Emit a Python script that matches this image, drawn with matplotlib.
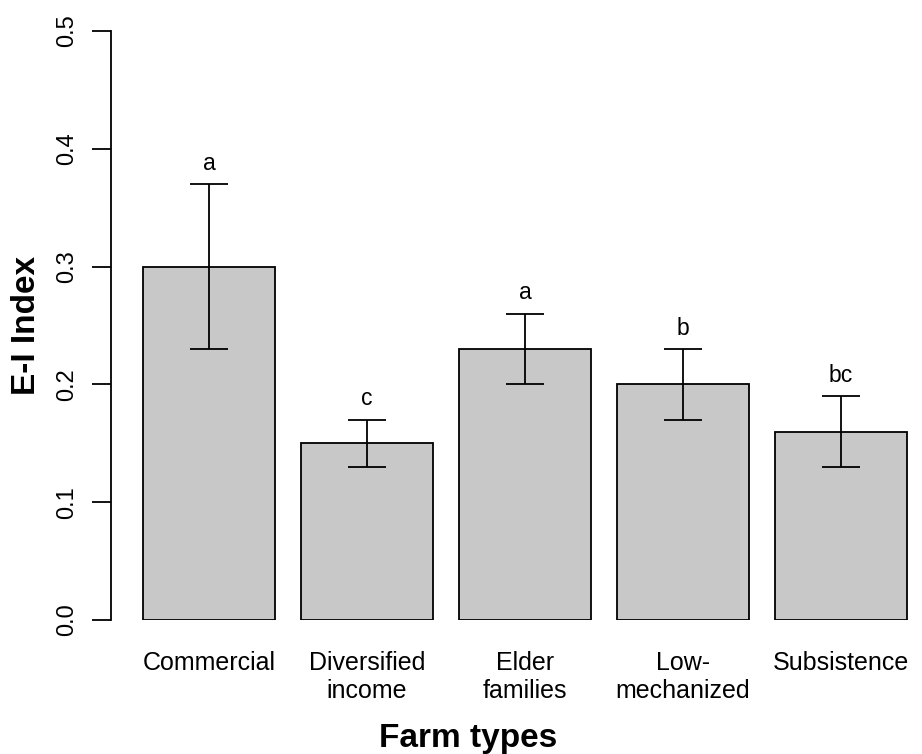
import matplotlib
matplotlib.use("Agg")
import matplotlib.pyplot as plt

plt.rcParams['font.family'] = ['Liberation Sans', 'DejaVu Sans']

categories = ["Commercial", "Diversified\nincome", "Elder\nfamilies", "Low-\nmechanized", "Subsistence"]
means = [0.30, 0.15, 0.23, 0.20, 0.16]
lower = [0.23, 0.13, 0.20, 0.17, 0.13]
upper = [0.37, 0.17, 0.26, 0.23, 0.19]
letters = ["a", "c", "a", "b", "bc"]

W, H = 922, 754
fig = plt.figure(figsize=(W / 100, H / 100), dpi=100)
ax = fig.add_axes([111 / W, (H - 620) / H, (915 - 111) / W, (620 - 31) / H])

x = list(range(len(categories)))
ax.bar(x, means, width=0.835, color="#c8c8c8", edgecolor="black", linewidth=1.3)

err_lo = [m - l for m, l in zip(means, lower)]
err_hi = [u - m for m, u in zip(means, upper)]
ax.errorbar(x, means, yerr=[err_lo, err_hi], fmt="none", ecolor="black",
            elinewidth=1.3, capsize=14, capthick=1.3)

for xi, u, lab in zip(x, upper, letters):
    ax.text(xi, u + 0.008, lab, ha="center", va="bottom", fontsize=16.5)

ax.set_xlim(-0.62, 4.468)
ax.set_ylim(0, 0.5)
for s in ["top", "right", "bottom"]:
    ax.spines[s].set_visible(False)
ax.spines["left"].set_linewidth(1.3)
ax.spines["left"].set_bounds(0, 0.5)

ax.set_yticks([0.0, 0.1, 0.2, 0.3, 0.4, 0.5])
ax.set_yticklabels(["0.0", "0.1", "0.2", "0.3", "0.4", "0.5"], rotation=90, va="center", fontsize=17)
ax.tick_params(axis="y", length=14, width=1.3, pad=10)

ax.set_xticks(x)
ax.set_xticklabels(categories, fontsize=18, linespacing=1.22)
ax.tick_params(axis="x", length=0, pad=22)

ax.set_ylabel("E-I Index", fontsize=24, fontweight="bold", labelpad=10)
fig.text(468 / W, 1 - 738 / H, "Farm types", ha="center", va="center", fontsize=24, fontweight="bold")

fig.savefig("out.png", dpi=100)
